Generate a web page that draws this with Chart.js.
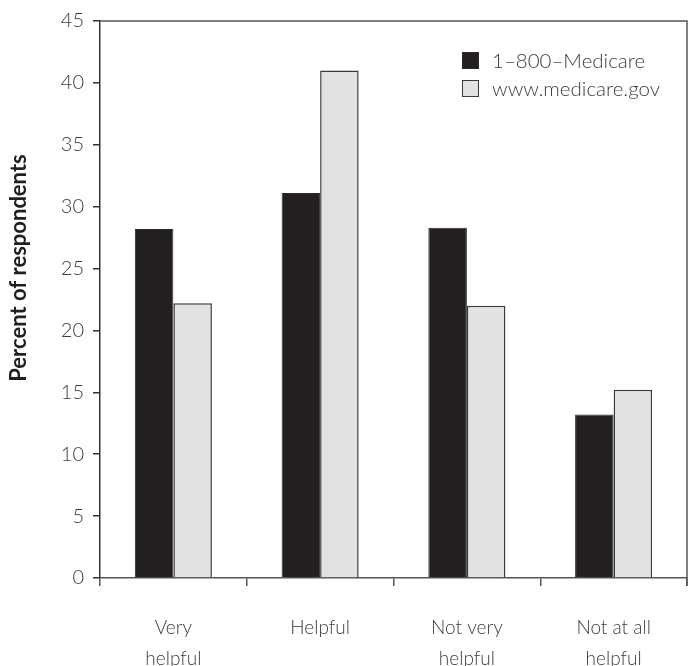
<!DOCTYPE html>
<html>
<head>
<meta charset="utf-8">
<script src="https://cdn.jsdelivr.net/npm/chart.js@4.4.1/dist/chart.umd.min.js"></script>
<style>
  html, body { margin: 0; padding: 0; background: #fff; }
  #wrap { width: 693px; height: 666px; }
</style>
</head>
<body>
<div id="wrap"><canvas id="chart" width="693" height="666"></canvas></div>
<script>
const categories = [['Very', 'helpful'], 'Helpful', ['Not very', 'helpful'], ['Not at all', 'helpful']];
const seriesNames = ['1\u2013800\u2013Medicare', 'www.medicare.gov'];
const phoneValues = [28.2, 31.1, 28.3, 13.2];
const webValues = [22.2, 41.0, 22.0, 15.2];
const yMin = 0;
const yMax = 45;
const yStep = 5;
const yTitle = 'Percent of respondents';

const textColor = '#3c3c3c';
const lineColor = '#555';
const lightFont = 'Lato';

// top + right frame lines, rotated axis title, legend inside the plot
const extras = {
    id: 'extras',
    afterDraw(chart){
        const {ctx, chartArea} = chart;
        ctx.save();
        ctx.strokeStyle = lineColor;
        ctx.lineWidth = 1.5;
        ctx.beginPath();
        ctx.moveTo(chartArea.left, chartArea.top);
        ctx.lineTo(chartArea.right, chartArea.top);
        ctx.lineTo(chartArea.right, chartArea.bottom + 8);
        ctx.stroke();

        // y title
        ctx.save();
        ctx.translate(19, 268);
        ctx.rotate(-Math.PI / 2);
        ctx.fillStyle = '#231f20';
        ctx.font = 'bold 22px Lato';
        ctx.textAlign = 'center';
        ctx.textBaseline = 'middle';
        ctx.fillText(yTitle, 0, 0);
        ctx.restore();

        // legend
        const bx = chartArea.right - 225;
        let by = chartArea.top + 31;
        chart.data.datasets.forEach(ds => {
            ctx.fillStyle = ds.backgroundColor;
            ctx.fillRect(bx, by, 17, 17);
            ctx.strokeStyle = ds.borderColor;
            ctx.lineWidth = 1;
            ctx.strokeRect(bx + 0.5, by + 0.5, 16, 16);
            ctx.fillStyle = textColor;
            ctx.font = '300 20.5px ' + lightFont;
            ctx.textAlign = 'left';
            ctx.textBaseline = 'middle';
            ctx.fillText(ds.label, bx + 30, by + 9);
            by += 28;
        });
        ctx.restore();
    }
};

new Chart(document.getElementById('chart'), {
    type: 'bar',
    data: {
        labels: categories,
        datasets: [
            {
                label: seriesNames[0],
                data: phoneValues,
                backgroundColor: '#231f20',
                borderColor: '#2a2a2a',
                borderWidth: 1
            },
            {
                label: seriesNames[1],
                data: webValues,
                backgroundColor: '#e1e2e4',
                borderColor: '#3a3a3a',
                borderWidth: 1.5
            }
        ]
    },
    options: {
        responsive: false,
        animation: false,
        layout: {padding: {left: 0, right: 6, top: 18, bottom: 0}},
        datasets: {
            bar: {categoryPercentage: 0.525, barPercentage: 1}
        },
        plugins: {
            legend: {display: false},
            tooltip: {enabled: false}
        },
        scales: {
            x: {
                grid: {
                    offset: true,
                    drawOnChartArea: false,
                    drawTicks: true,
                    tickLength: 8,
                    color: lineColor,
                    lineWidth: 1.5
                },
                border: {display: true, color: lineColor, width: 1.5},
                ticks: {
                    color: textColor,
                    padding: 26,
                    font: {family: lightFont, weight: 300, size: 19, lineHeight: 1.65}
                },
                afterFit(scale){ scale.height = 88; }
            },
            y: {
                min: yMin,
                max: yMax,
                grid: {
                    drawOnChartArea: false,
                    drawTicks: true,
                    tickLength: 7,
                    color: '#333',
                    lineWidth: 1.5
                },
                border: {display: true, color: '#333', width: 1.5},
                ticks: {
                    stepSize: yStep,
                    color: textColor,
                    padding: 9,
                    font: {family: lightFont, weight: 300, size: 20}
                },
                afterFit(scale){ scale.width = 100; }
            }
        }
    },
    plugins: [extras]
});
</script>
</body>
</html>
